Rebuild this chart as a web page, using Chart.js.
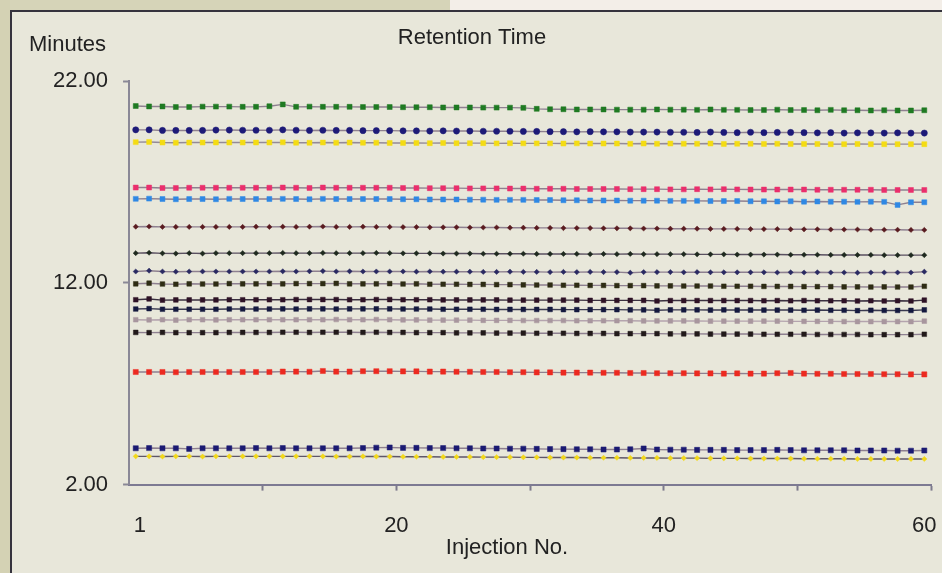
<!DOCTYPE html>
<html>
<head>
<meta charset="utf-8">
<script src="https://cdn.jsdelivr.net/npm/chart.js@4.4.1/dist/chart.umd.min.js"></script>
<style>
  html, body { margin: 0; padding: 0; }
  body { width: 942px; height: 573px; background: #e8e7da; position: relative; overflow: hidden; }
  #topstrip { position: absolute; left: 0; top: 0; width: 942px; height: 10px;
    background: linear-gradient(to right, #d6d4b8 0, #d6d4b8 450px, #f3eee8 450px, #f3eee8 100%); }
  #leftstrip { position: absolute; left: 0; top: 0; width: 10px; height: 573px; background: #d4d2b4; }
  #frame { position: absolute; left: 10px; top: 10px; width: 940px; height: 570px;
    border-left: 2px solid #35333d; border-top: 2px solid #35333d; }
  #wrap { position: absolute; left: 0; top: 0; width: 942px; height: 573px; }
</style>
</head>
<body>
<div id="topstrip"></div>
<div id="leftstrip"></div>
<div id="frame"></div>
<div id="wrap"><canvas id="rtChart"></canvas></div>
<script>
var injections = [1,2,3,4,5,6,7,8,9,10,11,12,13,14,15,16,17,18,19,20,
  21,22,23,24,25,26,27,28,29,30,31,32,33,34,35,36,37,38,39,40,
  41,42,43,44,45,46,47,48,49,50,51,52,53,54,55,56,57,58,59,60];

var yTicks = [2, 12, 22];
// label positions and tick-mark positions on the injection axis
var xTicks = [1.3, 10.5, 20.5, 30.5, 40.5, 50.5, 60, 60.5];
var xTickLabels = ['1', '', '20', '', '40', '', '60', ''];
var xTickMarks = [false, true, true, true, true, true, false, true];

var peak1 = [20.76,20.74,20.74,20.71,20.71,20.73,20.73,20.73,20.72,20.72,
  20.75,20.84,20.72,20.73,20.72,20.72,20.72,20.71,20.71,20.71,
  20.70,20.70,20.70,20.69,20.69,20.69,20.68,20.68,20.68,20.67,
  20.62,20.60,20.60,20.59,20.59,20.59,20.58,20.58,20.58,20.59,
  20.58,20.58,20.57,20.59,20.57,20.57,20.56,20.56,20.58,20.56,
  20.56,20.55,20.57,20.55,20.55,20.54,20.55,20.54,20.54,20.55];
var peak2 = [19.58,19.58,19.55,19.55,19.55,19.55,19.57,19.57,19.56,19.56,
  19.56,19.58,19.56,19.55,19.56,19.55,19.55,19.54,19.54,19.54,
  19.53,19.53,19.52,19.53,19.52,19.52,19.51,19.51,19.51,19.50,
  19.50,19.49,19.49,19.48,19.49,19.48,19.48,19.47,19.47,19.47,
  19.46,19.46,19.45,19.47,19.45,19.44,19.46,19.44,19.45,19.45,
  19.44,19.43,19.44,19.42,19.43,19.43,19.42,19.43,19.42,19.42];
var peak3 = [18.97,18.98,18.95,18.94,18.95,18.95,18.95,18.95,18.95,18.95,
  18.95,18.96,18.94,18.94,18.95,18.94,18.95,18.94,18.94,18.93,
  18.93,18.93,18.92,18.93,18.92,18.92,18.92,18.91,18.92,18.91,
  18.91,18.91,18.90,18.91,18.90,18.90,18.90,18.89,18.90,18.89,
  18.90,18.89,18.89,18.90,18.88,18.89,18.89,18.88,18.89,18.88,
  18.88,18.88,18.87,18.87,18.88,18.87,18.87,18.87,18.87,18.87];
var peak4 = [16.72,16.72,16.70,16.70,16.71,16.71,16.71,16.71,16.71,16.71,
  16.71,16.72,16.71,16.70,16.72,16.71,16.71,16.71,16.71,16.71,
  16.70,16.70,16.69,16.69,16.69,16.68,16.68,16.68,16.67,16.67,
  16.66,16.66,16.66,16.65,16.65,16.65,16.65,16.64,16.64,16.64,
  16.63,16.63,16.64,16.63,16.64,16.63,16.62,16.62,16.62,16.62,
  16.62,16.61,16.61,16.61,16.61,16.61,16.60,16.60,16.60,16.60];
var peak5 = [16.16,16.17,16.15,16.14,16.15,16.15,16.14,16.16,16.15,16.15,
  16.15,16.16,16.15,16.14,16.16,16.15,16.15,16.15,16.15,16.15,
  16.14,16.14,16.13,16.13,16.13,16.12,16.12,16.11,16.11,16.11,
  16.10,16.10,16.09,16.09,16.08,16.08,16.08,16.07,16.07,16.07,
  16.06,16.06,16.06,16.05,16.05,16.05,16.04,16.04,16.03,16.04,
  16.02,16.03,16.02,16.02,16.01,16.02,16.01,15.86,15.99,15.99];
var peak6 = [14.78,14.79,14.77,14.77,14.77,14.77,14.77,14.77,14.77,14.78,
  14.77,14.78,14.77,14.78,14.79,14.77,14.77,14.78,14.77,14.77,
  14.76,14.76,14.75,14.75,14.75,14.74,14.74,14.74,14.73,14.73,
  14.72,14.72,14.71,14.71,14.71,14.70,14.70,14.70,14.69,14.69,
  14.68,14.68,14.68,14.67,14.67,14.67,14.66,14.66,14.66,14.65,
  14.65,14.65,14.64,14.64,14.64,14.63,14.63,14.63,14.62,14.62];
var peak7 = [13.47,13.49,13.46,13.45,13.47,13.45,13.47,13.47,13.47,13.47,
  13.47,13.48,13.47,13.47,13.48,13.47,13.47,13.47,13.48,13.47,
  13.46,13.46,13.46,13.45,13.45,13.45,13.44,13.44,13.44,13.44,
  13.43,13.43,13.43,13.43,13.42,13.43,13.42,13.43,13.42,13.42,
  13.42,13.42,13.41,13.41,13.41,13.40,13.40,13.40,13.40,13.39,
  13.39,13.39,13.38,13.38,13.38,13.38,13.37,13.37,13.37,13.37];
var peak8 = [12.56,12.60,12.56,12.55,12.56,12.56,12.56,12.56,12.56,12.56,
  12.56,12.57,12.56,12.57,12.58,12.56,12.57,12.56,12.56,12.56,
  12.56,12.55,12.56,12.55,12.55,12.55,12.54,12.54,12.55,12.54,
  12.54,12.53,12.54,12.53,12.54,12.53,12.53,12.50,12.53,12.53,
  12.53,12.52,12.53,12.52,12.52,12.52,12.52,12.52,12.51,12.52,
  12.51,12.52,12.51,12.51,12.50,12.51,12.51,12.51,12.51,12.55];
var peak9 = [11.95,11.98,11.94,11.93,11.95,11.94,11.94,11.96,11.95,11.95,
  11.96,11.95,11.96,11.96,11.96,11.97,11.95,11.95,11.95,11.96,
  11.94,11.95,11.93,11.93,11.93,11.92,11.92,11.91,11.91,11.90,
  11.89,11.89,11.88,11.88,11.87,11.87,11.86,11.86,11.86,11.85,
  11.85,11.84,11.84,11.84,11.83,11.83,11.83,11.82,11.82,11.82,
  11.81,11.81,11.81,11.80,11.80,11.79,11.80,11.79,11.79,11.83];
var peak10 = [11.16,11.20,11.14,11.15,11.15,11.15,11.15,11.16,11.16,11.16,
  11.16,11.16,11.17,11.17,11.17,11.17,11.16,11.16,11.17,11.17,
  11.16,11.16,11.16,11.15,11.15,11.15,11.15,11.15,11.14,11.14,
  11.14,11.14,11.14,11.14,11.13,11.13,11.13,11.13,11.13,11.10,
  11.12,11.12,11.12,11.12,11.12,11.12,11.12,11.11,11.12,11.11,
  11.12,11.11,11.11,11.11,11.10,11.11,11.10,11.11,11.10,11.14];
var peak11 = [10.70,10.72,10.69,10.69,10.69,10.69,10.69,10.70,10.70,10.70,
  10.70,10.71,10.70,10.71,10.71,10.70,10.71,10.71,10.71,10.71,
  10.70,10.70,10.70,10.69,10.69,10.69,10.69,10.68,10.68,10.68,
  10.68,10.68,10.67,10.67,10.67,10.67,10.67,10.66,10.66,10.64,
  10.66,10.66,10.66,10.65,10.66,10.65,10.65,10.65,10.65,10.65,
  10.64,10.65,10.64,10.64,10.62,10.64,10.63,10.63,10.63,10.66];
var peak12 = [10.17,10.16,10.17,10.15,10.17,10.17,10.16,10.17,10.17,10.17,
  10.17,10.17,10.17,10.17,10.17,10.18,10.17,10.17,10.18,10.17,
  10.16,10.16,10.15,10.15,10.15,10.15,10.14,10.14,10.14,10.13,
  10.13,10.13,10.13,10.12,10.12,10.12,10.12,10.12,10.11,10.11,
  10.11,10.11,10.11,10.10,10.10,10.10,10.10,10.10,10.10,10.09,
  10.09,10.09,10.09,10.08,10.08,10.08,10.08,10.08,10.08,10.10];
var peak13 = [9.54,9.53,9.54,9.53,9.53,9.53,9.53,9.54,9.54,9.54,
  9.54,9.55,9.55,9.54,9.55,9.55,9.55,9.54,9.55,9.54,
  9.54,9.53,9.53,9.53,9.52,9.52,9.52,9.51,9.51,9.51,
  9.50,9.50,9.50,9.49,9.49,9.49,9.48,9.48,9.48,9.48,
  9.47,9.47,9.47,9.46,9.46,9.46,9.46,9.45,9.45,9.45,
  9.45,9.44,9.44,9.44,9.44,9.43,9.43,9.43,9.43,9.45];
var peak14 = [7.58,7.58,7.58,7.57,7.58,7.58,7.58,7.58,7.58,7.58,
  7.58,7.60,7.60,7.59,7.63,7.60,7.60,7.62,7.62,7.62,
  7.61,7.61,7.60,7.60,7.59,7.59,7.58,7.58,7.57,7.57,
  7.56,7.56,7.55,7.55,7.55,7.54,7.54,7.53,7.53,7.52,
  7.52,7.52,7.51,7.51,7.50,7.51,7.50,7.50,7.52,7.53,
  7.50,7.49,7.49,7.48,7.48,7.48,7.47,7.47,7.46,7.46];
var peak15 = [3.80,3.81,3.80,3.80,3.77,3.80,3.80,3.80,3.80,3.81,
  3.80,3.81,3.80,3.80,3.80,3.80,3.80,3.81,3.83,3.84,
  3.82,3.82,3.81,3.81,3.80,3.80,3.79,3.79,3.78,3.78,
  3.77,3.76,3.76,3.75,3.75,3.74,3.74,3.75,3.79,3.74,
  3.73,3.73,3.72,3.72,3.72,3.71,3.71,3.71,3.72,3.71,
  3.70,3.70,3.70,3.70,3.69,3.69,3.69,3.68,3.68,3.69];
var peak16 = [3.40,3.40,3.39,3.40,3.40,3.39,3.40,3.40,3.40,3.40,
  3.40,3.40,3.40,3.40,3.40,3.39,3.39,3.40,3.39,3.39,
  3.38,3.38,3.38,3.37,3.37,3.37,3.36,3.36,3.36,3.35,
  3.35,3.34,3.34,3.34,3.33,3.33,3.33,3.32,3.32,3.32,
  3.31,3.31,3.31,3.30,3.30,3.30,3.29,3.29,3.29,3.29,
  3.28,3.28,3.28,3.28,3.27,3.27,3.27,3.27,3.27,3.27];

var seriesList = [peak1, peak2, peak3, peak4, peak5, peak6, peak7, peak8,
  peak9, peak10, peak11, peak12, peak13, peak14, peak15, peak16];
var markerColors = ['#1f7a22', '#1d1a78', '#f4dc14', '#ea2f6c', '#2f88e4', '#5a1c20', '#1f2a1f', '#2a2a62',
  '#2e2c14', '#2e1226', '#14193f', '#a8969e', '#221a1a', '#ec2a20', '#1b1a72', '#f2d81a'];
var markerShapes = ['rect', 'circle', 'rect', 'rect', 'rect', 'rectRot', 'rectRot', 'rectRot',
  'rect', 'rect', 'rect', 'rect', 'rect', 'rect', 'rect', 'rectRot'];
var markerSizes = [3.5, 3.1, 3.5, 3.5, 3.5, 2.6, 2.6, 2.6, 3.3, 3.3, 3.3, 3.3, 3.3, 3.6, 3.6, 2.6];
var lineColors = ['#8e8090', '#8e8090', '#948a98', '#8e8090', '#8e8090', '#8e8090', '#5a5060', '#8e8090',
  '#8e8090', '#3a3040', '#3a3a50', '#b4a4ae', '#8e8090', '#8e8090', '#8e8090', '#5e5668'];

var datasets = seriesList.map(function (s, k) {
  return {
    label: 'Peak ' + (k + 1),
    data: injections.map(function (x, i) { return { x: x, y: s[i] }; }),
    borderColor: lineColors[k],
    borderWidth: 1.4,
    pointStyle: markerShapes[k],
    pointRadius: markerSizes[k],
    pointBackgroundColor: markerColors[k],
    pointBorderColor: markerColors[k],
    pointBorderWidth: 0.5,
    tension: 0
  };
});

var textFont = '"Liberation Sans", Arial, sans-serif';

var labelsPlugin = {
  id: 'labelsPlugin',
  afterDraw: function (chart) {
    var c = chart.ctx;
    c.save();
    c.fillStyle = '#222';
    c.font = '22px ' + textFont;
    c.textBaseline = 'middle';
    c.textAlign = 'center';
    c.fillText('Retention Time', 472, 38);
    c.fillText('Injection No.', 507, 548);
    c.textAlign = 'left';
    c.fillText('Minutes', 29, 45);
    c.restore();
  }
};

var ctx = document.getElementById('rtChart').getContext('2d');
var rtChart = new Chart(ctx, {
  type: 'line',
  data: { datasets: datasets },
  plugins: [labelsPlugin],
  options: {
    responsive: true,
    maintainAspectRatio: false,
    animation: false,
    layout: { padding: { left: 38, right: 11, top: 81, bottom: 12 } },
    plugins: {
      legend: { display: false },
      title: { display: false },
      tooltip: { enabled: false }
    },
    scales: {
      x: {
        type: 'linear',
        min: 0.5,
        max: 60.5,
        afterBuildTicks: function (axis) {
          axis.ticks = xTicks.map(function (v) { return { value: v }; });
        },
        afterFit: function (axis) {
          axis.paddingLeft = 0;
          axis.paddingRight = 0;
        },
        ticks: {
          autoSkip: false,
          maxRotation: 0,
          padding: 22,
          color: '#222',
          font: { family: textFont, size: 22 },
          callback: function (v, i) { return xTickLabels[i]; }
        },
        grid: {
          drawOnChartArea: false,
          drawTicks: true,
          tickLength: 6,
          tickWidth: 2,
          tickColor: function (c) { return xTickMarks[c.index] ? '#7d7a8c' : 'rgba(0,0,0,0)'; }
        },
        border: { display: true, color: '#7d7a92', width: 2 }
      },
      y: {
        min: 2,
        max: 22,
        afterBuildTicks: function (axis) {
          axis.ticks = yTicks.map(function (v) { return { value: v }; });
        },
        afterFit: function (axis) {
          axis.paddingTop = 0;
          axis.paddingBottom = 0;
        },
        ticks: {
          padding: 15,
          color: '#222',
          font: { family: textFont, size: 22 },
          callback: function (v) { return v.toFixed(2); }
        },
        grid: {
          drawOnChartArea: false,
          drawTicks: true,
          tickLength: 6,
          tickWidth: 2,
          tickColor: '#8a8896'
        },
        border: { display: true, color: '#8a8896', width: 2 }
      }
    }
  }
});
</script>
</body>
</html>
